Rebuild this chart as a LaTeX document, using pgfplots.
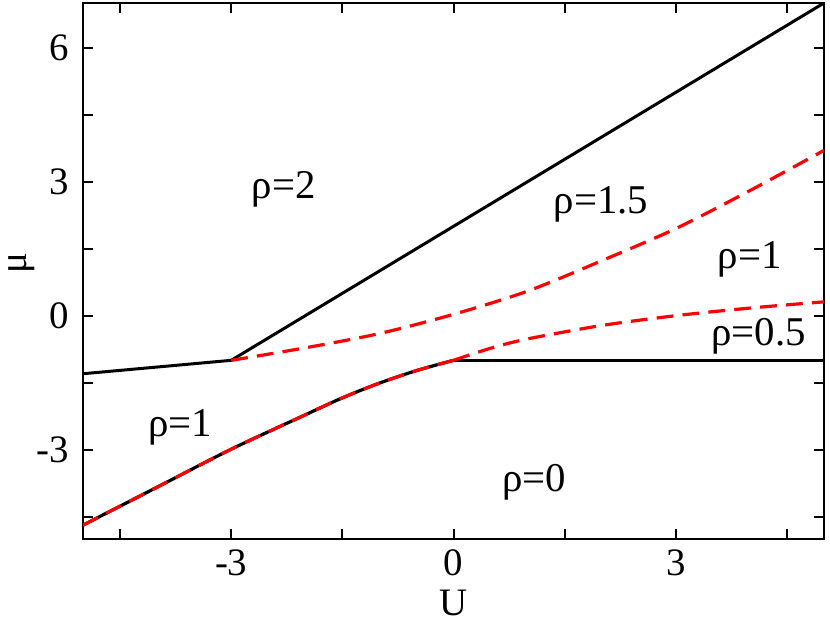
\documentclass[border=0pt]{standalone}
\usepackage{fontspec}
\setmainfont{Liberation Serif}
\usepackage{pgfplots}
\pgfplotsset{compat=1.18}
\begin{document}
\fontsize{20.5}{24}\selectfont
\begin{tikzpicture}
\begin{axis}[
    scale only axis,
    width=370.5bp, height=268bp,
    xmin=-5, xmax=5, ymin=-5, ymax=7,
    xtick={-3,0,3}, ytick={-3,0,3,6},
    minor xtick={-4.5,-1.5,1.5,4.5},
    minor ytick={-4.5,-1.5,1.5,4.5},
    tick align=inside,
    major tick length=5bp, minor tick length=5bp,
    axis line style={line width=1bp},
    every tick/.style={black, line width=1bp},
    tick label style={font=\fontsize{19.5}{23}\selectfont},
    xticklabel style={inner sep=5bp},
    /pgf/number format/assume math mode=true,
    xlabel={U}, ylabel={μ},
    xlabel style={at={(rel axis cs:0.5,0)}, anchor=base, yshift=-38.3bp, inner sep=0pt},
    ylabel style={at={(rel axis cs:0,0.515)}, anchor=center, yshift=30.5bp, inner sep=0pt},
    label style={font=\fontsize{19.5}{23}\selectfont},
]
% rho=2 / rho=1 boundary
\addplot[black, line width=1.5bp] coordinates {(-5,-1.3) (-3,-1) (5,7)};
% rho=0 boundary at U>0
\addplot[black, line width=1.5bp] coordinates {(0,-1) (5,-1)};
% lower boundary, black under red dashes
\addplot[black, line width=1.6bp, smooth] coordinates {
    (-5,-4.69) (-4,-3.84) (-3,-2.99) (-2,-2.22) (-1.5,-1.84)
    (-1,-1.51) (-0.5,-1.23) (0,-1)
};
\addplot[red, line width=1.6bp, dash pattern=on 8.4bp off 4.6bp, smooth] coordinates {
    (-5,-4.69) (-4,-3.84) (-3,-2.99) (-2,-2.22) (-1.5,-1.84)
    (-1,-1.51) (-0.5,-1.23) (0,-1)
};
% rho=1.5 / rho=1
\addplot[red, line width=1.6bp, dash pattern=on 8.4bp off 4.6bp, smooth] coordinates {
    (-3,-1.0) (-2,-0.72) (-1,-0.40) (0,0.03) (1,0.55)
    (2,1.23) (3,1.95) (4,2.8) (5,3.7)
};
% rho=1 / rho=0.5
\addplot[red, line width=1.6bp, dash pattern=on 8.4bp off 4.6bp, smooth] coordinates {
    (0,-1) (0.5,-0.73) (1,-0.52) (2,-0.22) (3,0.0) (4,0.17) (5,0.31)
};
\node[anchor=base] at (axis cs:-2.29,2.63) {ρ=2};
\node[anchor=base] at (axis cs:1.99,2.29) {ρ=1.5};
\node[anchor=base] at (axis cs:4.0,1.06) {ρ=1};
\node[anchor=base] at (axis cs:4.12,-0.66) {ρ=0.5};
\node[anchor=base] at (axis cs:-3.69,-2.71) {ρ=1};
\node[anchor=base] at (axis cs:1.09,-3.94) {ρ=0};
\coordinate (bl) at (rel axis cs:0,0);
\coordinate (tr) at (rel axis cs:1,1);
\end{axis}
\pgfresetboundingbox
\path ([shift={(-41.5bp,-41bp)}]bl) rectangle ([shift={(3bp,1.5bp)}]tr);
\end{tikzpicture}
\end{document}
